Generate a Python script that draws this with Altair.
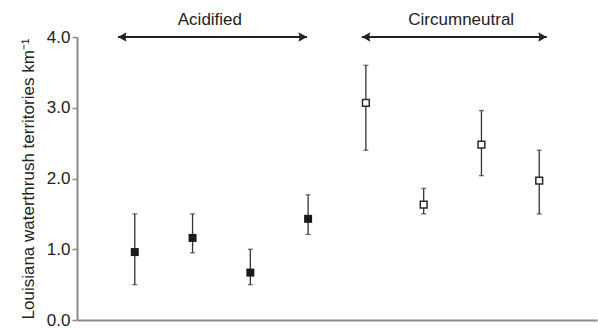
import altair as alt
import pandas as pd

# Data
site = [1, 2, 3, 4, 5, 6, 7, 8]
group = ["Acidified"] * 4 + ["Circumneutral"] * 4
mean = [0.96, 1.16, 0.67, 1.43, 3.07, 1.63, 2.48, 1.97]
lower = [0.50, 0.95, 0.50, 1.21, 2.40, 1.50, 2.04, 1.50]
upper = [1.50, 1.50, 1.00, 1.77, 3.60, 1.86, 2.96, 2.40]

labels = ["Acidified", "Circumneutral"]
label_x = [2.30, 6.65]
label_y = [4.17, 4.17]
arrow_start = [0.71, 4.93]
arrow_end = [3.98, 8.13]
arrow_y = [4.0, 4.0]

df = pd.DataFrame({"site": site, "group": group, "mean": mean,
                   "lower": lower, "upper": upper})
arr = pd.DataFrame({"label": labels, "lx": label_x, "ly": label_y,
                    "x0": arrow_start, "x1": arrow_end, "y": arrow_y})

FONT = "Liberation Sans"
INK = "#222222"

xs = alt.Scale(domain=[0, 9], nice=False, zero=False)
ys = alt.Scale(domain=[0, 4], nice=False)

xenc = alt.X("site:Q", scale=xs,
             axis=alt.Axis(title=None, labels=False, ticks=False, grid=False,
                           domainColor="#8a8a8a", domainWidth=2))
yaxis = alt.Axis(title="Louisiana waterthrush territories km⁻¹", values=[0, 1, 2, 3, 4],
                 format=".1f", grid=False, domainColor="#8a8a8a", domainWidth=2,
                 tickColor="#8a8a8a", tickSize=5, tickWidth=1.5, labelPadding=2,
                 labelFontSize=17, labelColor=INK, labelFont=FONT,
                 titleFont=FONT, titleFontSize=17, titleFontWeight="normal",
                 titleColor=INK, titlePadding=9)

bars = alt.Chart(df).mark_rule(color="#333333", strokeWidth=1.3).encode(
    x=xenc,
    y=alt.Y("lower:Q", scale=ys, axis=yaxis),
    y2="upper:Q",
)
cap_lo = alt.Chart(df).mark_tick(orient="horizontal", size=5, thickness=1.3,
                                 color="#333333").encode(
    x=alt.X("site:Q", scale=xs), y=alt.Y("lower:Q", scale=ys))
cap_hi = alt.Chart(df).mark_tick(orient="horizontal", size=5, thickness=1.3,
                                 color="#333333").encode(
    x=alt.X("site:Q", scale=xs), y=alt.Y("upper:Q", scale=ys))

pts_fill = alt.Chart(df).transform_filter(alt.datum.group == "Acidified").mark_point(
    shape="square", filled=True, size=64, color="#1a1a1a", opacity=1).encode(
    x=alt.X("site:Q", scale=xs), y=alt.Y("mean:Q", scale=ys))
pts_open = alt.Chart(df).transform_filter(alt.datum.group == "Circumneutral").mark_point(
    shape="square", filled=True, size=46, fill="white", stroke="#2a2a2a",
    strokeWidth=1.5, opacity=1).encode(
    x=alt.X("site:Q", scale=xs), y=alt.Y("mean:Q", scale=ys))

arrow_line = alt.Chart(arr).mark_rule(color=INK, strokeWidth=2.2, clip=False).encode(
    x=alt.X("x0:Q", scale=xs), x2="x1:Q", y=alt.Y("y:Q", scale=ys))
head_l = alt.Chart(arr).mark_point(shape="M0,0L1,-0.55L0.85,0L1,0.55Z", size=290,
                                   filled=True, color=INK, opacity=1, clip=False).encode(
    x=alt.X("x0:Q", scale=xs), y=alt.Y("y:Q", scale=ys))
head_r = alt.Chart(arr).mark_point(shape="M0,0L-1,-0.55L-0.85,0L-1,0.55Z", size=290,
                                   filled=True, color=INK, opacity=1, clip=False).encode(
    x=alt.X("x1:Q", scale=xs), y=alt.Y("y:Q", scale=ys))
text = alt.Chart(arr).mark_text(font=FONT, fontSize=17, color=INK, align="center",
                                baseline="alphabetic", clip=False).encode(
    x=alt.X("lx:Q", scale=xs), y=alt.Y("ly:Q", scale=ys), text="label:N")

chart = alt.layer(bars, cap_lo, cap_hi, pts_fill, pts_open,
                  arrow_line, head_l, head_r, text).properties(
    width=520, height=283,
    autosize=alt.AutoSizeParams(type="none"),
    padding={"left": 77, "top": 37, "right": 1, "bottom": 8},
    background="white",
).configure_view(stroke=None)

chart.save("out.html", embed_options={"renderer": "svg", "actions": False})
